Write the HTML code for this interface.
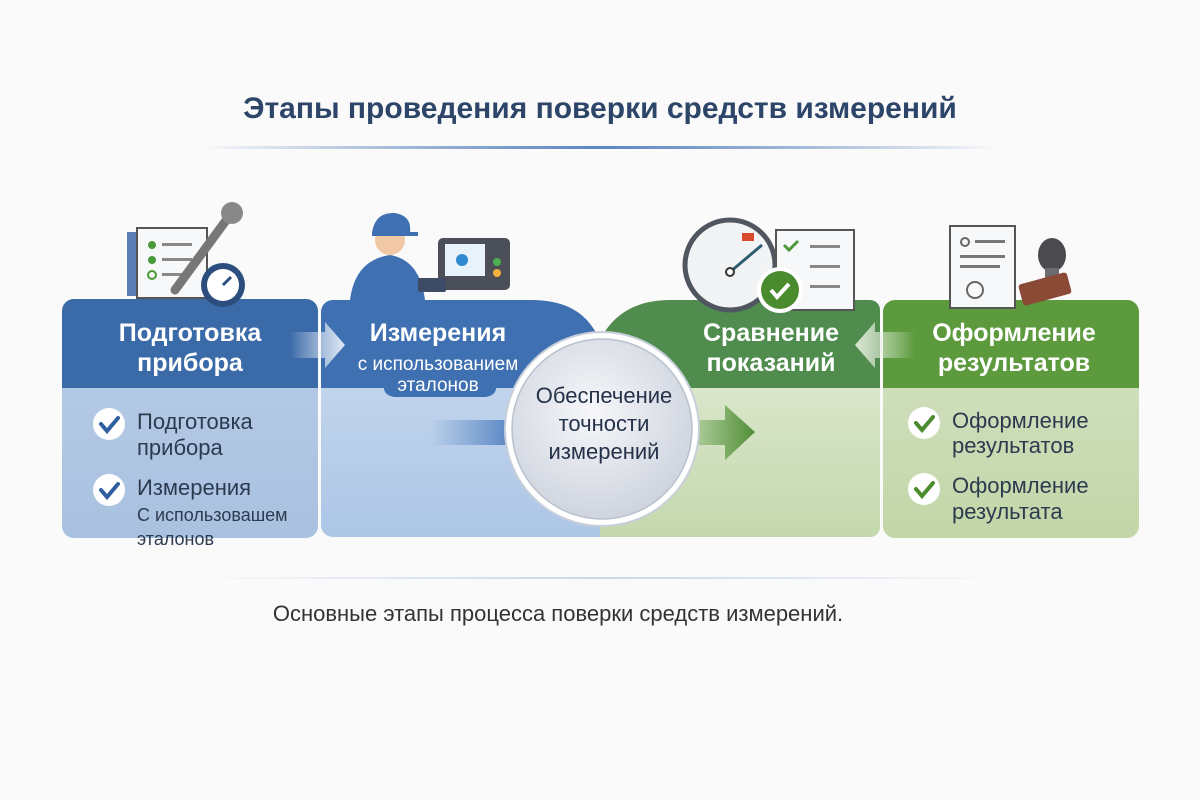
<!DOCTYPE html>
<html><head><meta charset="utf-8"><style>
html,body{margin:0;padding:0;background:#fafafb;}
svg{display:block;font-family:"Liberation Sans","DejaVu Sans",sans-serif;}
</style></head><body>
<svg width="1200" height="800" viewBox="0 0 1200 800">
<defs>
<linearGradient id="hl" x1="0" x2="1"><stop offset="0" stop-color="#3b6aa8" stop-opacity="0"/><stop offset=".5" stop-color="#5b86c4"/><stop offset="1" stop-color="#3b6aa8" stop-opacity="0"/></linearGradient>
<linearGradient id="b1" x1="0" y1="0" x2="0" y2="1"><stop offset="0" stop-color="#b9cde7"/><stop offset="1" stop-color="#a9c1e0"/></linearGradient>
<linearGradient id="b2" x1="0" y1="0" x2="0" y2="1"><stop offset="0" stop-color="#ccdcf0"/><stop offset="1" stop-color="#adc6e6"/></linearGradient>
<linearGradient id="g3" x1="0" y1="0" x2="0" y2="1"><stop offset="0" stop-color="#e6eedc"/><stop offset="1" stop-color="#c4d8ad"/></linearGradient>
<linearGradient id="g4" x1="0" y1="0" x2="0" y2="1"><stop offset="0" stop-color="#d6e3c6"/><stop offset="1" stop-color="#c2d6a8"/></linearGradient>
<radialGradient id="cg" cx=".45" cy=".4" r=".6"><stop offset="0" stop-color="#f6f7fa"/><stop offset="1" stop-color="#cfd4de"/></radialGradient>
<linearGradient id="ab" x1="0" x2="1"><stop offset="0" stop-color="#4a7cc0" stop-opacity="0"/><stop offset="1" stop-color="#3f72b7"/></linearGradient>
<linearGradient id="ag" x1="0" x2="1"><stop offset="0" stop-color="#5a9a40" stop-opacity="0"/><stop offset="1" stop-color="#4f8d36"/></linearGradient>
<linearGradient id="aw" x1="0" x2="1"><stop offset="0" stop-color="#fff" stop-opacity="0"/><stop offset="1" stop-color="#dfe8f5"/></linearGradient>
<linearGradient id="aw2" x1="1" x2="0"><stop offset="0" stop-color="#fff" stop-opacity="0"/><stop offset="1" stop-color="#dbe7cf"/></linearGradient>
</defs>
<text x="600" y="118" text-anchor="middle" font-size="30" font-weight="bold" fill="#2c4568">Этапы проведения поверки средств измерений</text>
<rect x="200" y="146" width="800" height="3" fill="url(#hl)"/>

<rect x="62" y="299" width="256" height="239" rx="12" fill="url(#b1)"/>
<path d="M62 388 V311 a12 12 0 0 1 12-12 H306 a12 12 0 0 1 12 12 V388 Z" fill="#3b6aa8"/>
<path d="M321 312 a12 12 0 0 1 12-12 H530 C575 300 590 320 600 340 V537 H333 a12 12 0 0 1-12-12 Z" fill="url(#b2)"/>
<path d="M321 388 V312 a12 12 0 0 1 12-12 H530 C575 300 590 320 600 340 V388 Z" fill="#3f70b2"/>
<path d="M385 380 H495 Q500 395 485 397 H395 Q380 395 385 380Z" fill="#3f70b2"/>
<path d="M600 340 C610 320 630 300 670 300 H870 a10 10 0 0 1 10 10 V527 a10 10 0 0 1-10 10 H600 Z" fill="url(#g3)"/>
<path d="M600 340 C610 320 630 300 670 300 H870 a10 10 0 0 1 10 10 V388 H600 Z" fill="#4f8c4e"/>
<rect x="883" y="300" width="256" height="238" rx="12" fill="url(#g4)"/>
<path d="M883 388 V312 a12 12 0 0 1 12-12 H1127 a12 12 0 0 1 12 12 V388 Z" fill="#5c9a3d"/>

<path d="M290 332 H325 V322 L345 345 L325 368 V358 H290 Z" fill="url(#aw)"/>
<path d="M915 332 H875 V322 L855 345 L875 368 V358 H915 Z" fill="url(#aw2)"/>
<path d="M430 420 H510 V410 L530 432 L510 455 V445 H430 Z" fill="url(#ab)"/>
<path d="M670 420 H725 V405 L755 432 L725 460 V445 H670 Z" fill="url(#ag)"/>

<circle cx="602" cy="429" r="97" fill="#fff" stroke="#c9cfda" stroke-width="2"/>
<circle cx="602" cy="429" r="90" fill="url(#cg)" stroke="#b9c0ce" stroke-width="1.5"/>
<g font-size="22" fill="#25324a" text-anchor="middle">
<text x="604" y="403">Обеспечение</text><text x="604" y="431">точности</text><text x="604" y="459">измерений</text></g>

<g fill="#fff" text-anchor="middle" font-weight="bold">
<text x="190" y="341" font-size="25">Подготовка</text><text x="190" y="371" font-size="25">прибора</text>
<text x="438" y="341" font-size="25">Измерения</text><text x="438" y="370" font-size="19" font-weight="normal">с использованием</text><text x="438" y="391" font-size="19" font-weight="normal">эталонов</text>
<text x="771" y="341" font-size="25">Сравнение</text><text x="771" y="371" font-size="25">показаний</text>
<text x="1014" y="341" font-size="25">Оформление</text><text x="1014" y="371" font-size="25">результатов</text>
</g>

<g>
<circle cx="109" cy="424" r="16" fill="#fff"/><path d="M101 424 l6 7 l11-13" stroke="#2f5f9e" stroke-width="4" fill="none" stroke-linecap="round"/>
<circle cx="109" cy="490" r="16" fill="#fff"/><path d="M101 490 l6 7 l11-13" stroke="#2f5f9e" stroke-width="4" fill="none" stroke-linecap="round"/>
<circle cx="924" cy="423" r="16" fill="#fff"/><path d="M916 423 l6 7 l11-13" stroke="#4a8b2e" stroke-width="4" fill="none" stroke-linecap="round"/>
<circle cx="924" cy="489" r="16" fill="#fff"/><path d="M916 489 l6 7 l11-13" stroke="#4a8b2e" stroke-width="4" fill="none" stroke-linecap="round"/>
</g>
<g fill="#2c3a50" font-size="22">
<text x="137" y="429">Подготовка</text><text x="137" y="455">прибора</text>
<text x="137" y="495">Измерения</text><text x="137" y="521" font-size="18">С использовашем</text><text x="137" y="545" font-size="18">эталонов</text>
<text x="952" y="428">Оформление</text><text x="952" y="453">результатов</text>
<text x="952" y="493">Оформление</text><text x="952" y="519">результата</text>
</g>

<rect x="200" y="577" width="800" height="2" fill="url(#hl)" opacity=".3"/>
<text x="558" y="621" text-anchor="middle" font-size="22" fill="#333">Основные этапы процесса поверки средств измерений.</text>

<g>
<rect x="127" y="232" width="20" height="64" fill="#5b7fb5"/>
<rect x="137" y="228" width="70" height="70" fill="#f7f8fa" stroke="#555" stroke-width="2"/>
<circle cx="152" cy="245" r="4" fill="#4a9a3a"/><circle cx="152" cy="260" r="4" fill="#4a9a3a"/><circle cx="152" cy="275" r="4" fill="none" stroke="#4a9a3a" stroke-width="2"/>
<rect x="162" y="243" width="30" height="3" fill="#888"/><rect x="162" y="258" width="30" height="3" fill="#888"/><rect x="162" y="273" width="20" height="3" fill="#888"/>
<path d="M230 215 L175 290" stroke="#777" stroke-width="9" stroke-linecap="round"/>
<circle cx="232" cy="213" r="11" fill="#888"/>
<circle cx="223" cy="285" r="22" fill="#2c4e7e"/><circle cx="223" cy="285" r="16" fill="#fff"/><path d="M223 285 l8-8" stroke="#2c4e7e" stroke-width="3"/>
</g>
<g>
<path d="M350 300 Q355 260 390 255 Q420 260 425 300Z" fill="#3f70b2"/>
<circle cx="390" cy="240" r="15" fill="#f0c8a5"/>
<path d="M372 233 Q375 212 395 213 Q412 216 410 232 H418 V236 H372Z" fill="#3f70b2"/>
<rect x="438" y="238" width="72" height="52" rx="5" fill="#4b4f58"/><rect x="445" y="244" width="40" height="32" fill="#e8f2fa"/>
<circle cx="462" cy="260" r="6" fill="#2f8ad0"/><circle cx="497" cy="262" r="4" fill="#4caf50"/><circle cx="497" cy="273" r="4" fill="#f2b13c"/>
<rect x="418" y="278" width="28" height="14" rx="2" fill="#3d4b66"/>
</g>
<g>
<circle cx="730" cy="265" r="45" fill="#f2f3f5" stroke="#50565f" stroke-width="5"/>
<path d="M730 272 L762 245" stroke="#2f5e70" stroke-width="3"/><circle cx="730" cy="272" r="4" fill="#fff" stroke="#333" stroke-width="2"/>
<rect x="742" y="233" width="12" height="8" fill="#d94a2c"/>
<rect x="776" y="230" width="78" height="80" fill="#f7f8fa" stroke="#555" stroke-width="2"/>
<rect x="810" y="245" width="30" height="3" fill="#888"/><rect x="810" y="265" width="30" height="3" fill="#888"/><rect x="810" y="285" width="30" height="3" fill="#888"/>
<path d="M784 245 l5 5 l9-9" stroke="#4a9a3a" stroke-width="3" fill="none"/>
<circle cx="780" cy="290" r="23" fill="#fff"/><circle cx="780" cy="290" r="19" fill="#4a8b2e"/><path d="M771 290 l6 7 l12-13" stroke="#fff" stroke-width="4" fill="none"/>
</g>
<g>
<rect x="950" y="226" width="65" height="82" fill="#f7f8fa" stroke="#555" stroke-width="2"/>
<circle cx="965" cy="242" r="4" fill="none" stroke="#666" stroke-width="2"/>
<rect x="975" y="240" width="30" height="3" fill="#777"/><rect x="960" y="255" width="45" height="3" fill="#777"/><rect x="960" y="265" width="40" height="3" fill="#777"/>
<circle cx="975" cy="290" r="8" fill="none" stroke="#666" stroke-width="2"/>
<ellipse cx="1052" cy="255" rx="14" ry="17" fill="#4a4a4f"/><rect x="1045" y="268" width="14" height="14" fill="#6b6b70"/>
<rect x="1020" y="278" width="50" height="22" rx="3" fill="#8a4a35" transform="rotate(-15 1045 289)"/>
</g>
</svg>
</body></html>
